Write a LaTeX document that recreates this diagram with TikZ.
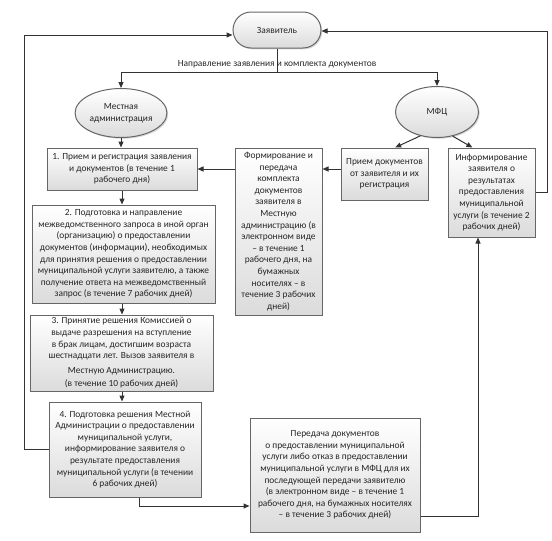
\documentclass[tikz,border=0pt]{standalone}
\usepackage{fontspec}
\setmainfont{Carlito}
\usepackage{xcolor}
\usepackage{tikz}
\usetikzlibrary{positioning}
\usetikzlibrary{arrows.meta,shapes.geometric,shadows}
\colorlet{box edge}{black!60}
\colorlet{box area}{black!14}
\colorlet{link line}{black!80}
\tikzset{block/.style={draw=box edge, line width=1pt, top color=white, bottom color=box area,
        drop shadow={shadow xshift=1.3pt, shadow yshift=-1.3pt, opacity=0.3},
        align=center, inner sep=1pt, text=black!85, font=\fontsize{9.4}{11.6}\selectfont},
    oval/.style={block, ellipse},
    link/.style={draw=link line, line width=1pt, -{Triangle[length=6pt,width=5pt]}}}

\begin{document}
\begin{tikzpicture}[x=1pt, y=-1pt]
    \useasboundingbox (0,0) rectangle (552,541);
    \node[block, rounded corners=18pt, minimum width=88pt, minimum height=36pt] (zayav) at (277,30) {Заявитель};
    \node[oval, minimum width=80pt, minimum height=49pt] (mestadm) at (121,113) {Местная\\администрация};
    \node[oval, minimum width=83pt, minimum height=51pt] (mfc) at (437,112) {МФЦ};

    \node[block, minimum width=150pt, minimum height=42pt] (box1) at (122,169)
        {1. Прием и регистрация заявления\\и документов (в течение 1\\рабочего дня)};
    \node[block, minimum width=183pt, minimum height=98pt] (box2) at (123.5,254)
        {2. Подготовка и направление\\межведомственного запроса в иной орган\\(организацию) о предоставлении\\документов (информации), необходимых\\для принятия решения о предоставлении\\муниципальной услуги заявителю, а также\\получение ответа на межведомственный\\запрос (в течение 7 рабочих дней)};
    \node[block, minimum width=183pt, minimum height=76pt] (box3) at (121.5,353)
        {3. Принятие решения Комиссией о\\выдаче разрешения на вступление\\в брак лицам, достигшим возраста\\шестнадцати лет. Вызов заявителя в\\[3pt]Местную Администрацию.\\[2pt](в течение 10 рабочих дней)};
    \node[block, minimum width=152pt, minimum height=95pt] (box4) at (125,449.5)
        {4. Подготовка решения Местной\\Администрации о предоставлении\\муниципальной услуги,\\информирование заявителя о\\результате предоставления\\муниципальной услуги (в течении\\6 рабочих дней)};

    \node[block, minimum width=87pt, minimum height=167pt] (form) at (278.5,231.5)
        {Формирование и\\передача\\комплекта\\документов\\заявителя в\\Местную\\администрацию (в\\электронном виде\\– в течение 1\\рабочего дня, на\\бумажных\\носителях – в\\течение 3 рабочих\\дней)};
    \node[block, minimum width=87pt, minimum height=52pt] (priem) at (384.5,174)
        {Прием документов\\от заявителя и их\\регистрация};
    \node[block, minimum width=87pt, minimum height=89pt] (inform) at (491.5,192.5)
        {Информирование\\заявителя о\\результатах\\предоставления\\муниципальной\\услуги (в течение 2\\рабочих дней)};
    \node[block, minimum width=170pt, minimum height=114pt] (pered) at (335,475)
        {Передача документов\\о предоставлении муниципальной\\услуги либо отказ в предоставлении\\муниципальной услуги в МФЦ для их\\последующей передачи заявителю\\(в электронном виде – в течение 1\\рабочего дня, на бумажных носителях\\– в течение 3 рабочих дней)};

    \coordinate (split) at (277,72);
    \coordinate (nw) at (24,35);
    \coordinate (ne) at (547,31);
    \coordinate (b4) at (139,506);
    \coordinate (b5) at (478,516);

    \draw[draw=link line, line width=1pt] (zayav.south) -- (split)
        node[above, font=\fontsize{9.4}{11}\selectfont, text=black!85] {Направление заявления и комплекта документов};
    \draw[link] (split) -| (mestadm.north);
    \draw[link] (split) -| (mfc.north);
    \draw[link] (mestadm.south) -- (mestadm.south |- box1.north);
    \draw[link] (box1.south) -- (box1.south |- box2.north);
    \draw[link] (box1.south |- box2.south) -- (box1.south |- box3.north);
    \draw[link] (box1.south |- box3.south) -- (box1.south |- box4.north);
    \draw[link] (box1.east -| form.west) -- (box1.east);
    \draw[link] (priem.west |- box1.east) -- (form.east |- box1.east);
    \draw[link] (mfc.235) -- (priem.68);
    \draw[link] (mfc.303) -- (inform.113);
    \draw[link] (box4.west) -| (nw) -- (nw -| zayav.west);
    \draw[link] (inform.east) -| (ne) -- (ne -| zayav.east);
    \draw[link] (box4.south -| b4) -- (b4) -- (b4 -| pered.west);
    \draw[link] (b5 -| pered.east) -- (b5) -- (b5 |- inform.south);
\end{tikzpicture}
\end{document}
